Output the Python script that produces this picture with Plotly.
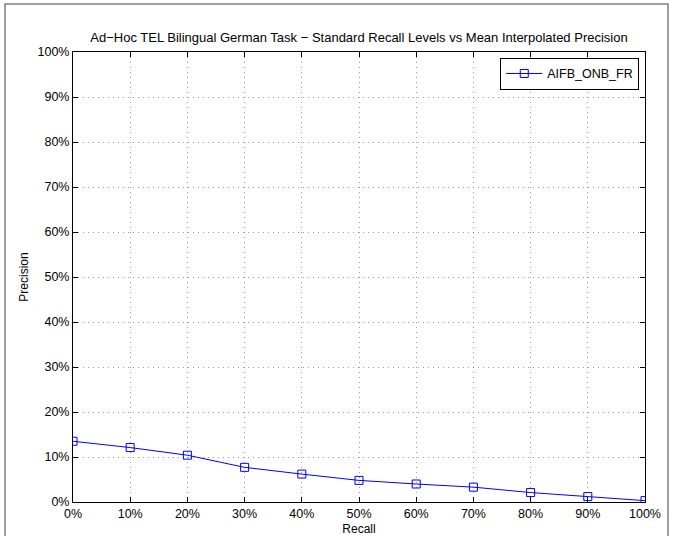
import plotly.graph_objects as go

# standard recall levels and mean interpolated precision (in %)
recall = [0, 10, 20, 30, 40, 50, 60, 70, 80, 90, 100]
precision = [13.5, 12.1, 10.4, 7.7, 6.2, 4.8, 4.0, 3.3, 2.1, 1.2, 0.3]
run_name = "AIFB_ONB_FR"

tick_vals = [0, 10, 20, 30, 40, 50, 60, 70, 80, 90, 100]
tick_text = [str(v) + "%" for v in tick_vals]

font = "Liberation Sans, Arial, Helvetica, sans-serif"

fig = go.Figure()
fig.add_trace(go.Scatter(
	x=recall, y=precision, name=run_name, mode="lines+markers",
	line=dict(color="rgb(0,0,255)", width=1),
	marker=dict(symbol="square-open", size=8, color="rgb(0,0,255)", line=dict(width=1))
))

axis_style = dict(
	tickvals=tick_vals, ticktext=tick_text, range=[0, 100],
	showline=True, linecolor="black", linewidth=1, mirror="ticks",
	ticks="inside", ticklen=5, tickcolor="black",
	showgrid=True, gridcolor="rgba(90,90,90,0.6)", griddash="1px,4px", gridwidth=1,
	zeroline=False, tickfont=dict(size=12.5, color="black", family=font),
	automargin=False,
)

fig.update_xaxes(**axis_style, title=dict(text="Recall", font=dict(size=12, color="black", family=font), standoff=4))
fig.update_yaxes(**axis_style, title=dict(text="Precision", font=dict(size=12, color="black", family=font), standoff=6))

fig.update_layout(
	width=673, height=536,
	margin=dict(l=73, r=28, t=52, b=34),
	paper_bgcolor="white", plot_bgcolor="white",
	title=dict(text="Ad\u2212Hoc TEL Bilingual German Task \u2212 Standard Recall Levels vs Mean Interpolated Precision",
		x=(73 + 645) / 2 / 673, xanchor="center", y=1 - 37 / 536, yanchor="middle",
		font=dict(size=13, color="black", family=font)),
	legend=dict(x=0.99, y=0.987, xanchor="right", yanchor="top",
		bordercolor="black", borderwidth=1, bgcolor="white",
		font=dict(size=12.5, color="black", family=font),
		itemwidth=36, tracegroupgap=0),
	showlegend=True,
	shapes=[dict(type="rect", xref="paper", yref="paper",
		x0=-0.1189, x1=1.0402, y0=-0.2, y1=1.1067,
		line=dict(color="rgb(128,128,128)", width=1.5), layer="below")],
)

# drop the default page margin so the figure sits at the top-left corner
fig.write_html("out.html", config={"displayModeBar": False},
	post_script="document.body.style.margin='0';")
